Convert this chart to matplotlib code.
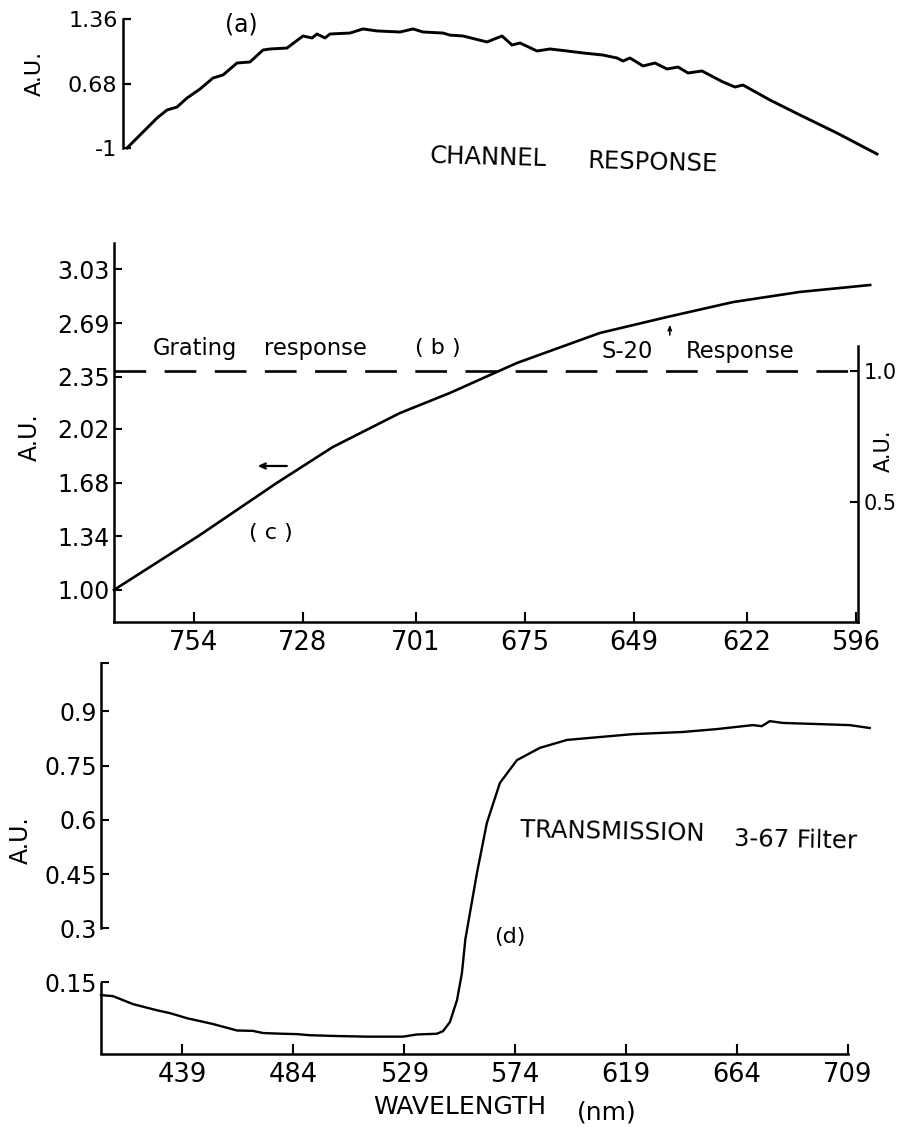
import matplotlib
matplotlib.use("Agg")
import matplotlib.pyplot as plt

plt.rcParams['font.family'] = ['DejaVu Sans']

W, H = 899, 1134

# ---------------- data ----------------
# (a) channel response (channel index, A.U.)
chan_a = [4, 17, 34, 44, 54, 64, 77, 90, 100, 114, 127, 140, 147, 164, 180, 189,
          194, 202, 207, 227, 240, 254, 277, 290, 300, 320, 327, 340, 364, 379,
          389, 397, 414, 427, 444, 460, 480, 494, 500, 507, 520, 532, 544, 555,
          565, 579, 600, 612, 620, 647, 677, 714, 754]
resp_a = [0.000, 0.137, 0.316, 0.401, 0.432, 0.527, 0.622, 0.738, 0.770, 0.896,
          0.907, 1.033, 1.044, 1.054, 1.181, 1.160, 1.202, 1.160, 1.202, 1.212,
          1.255, 1.234, 1.223, 1.255, 1.223, 1.212, 1.190, 1.181, 1.118, 1.181,
          1.086, 1.107, 1.023, 1.044, 1.023, 1.002, 0.980, 0.949, 0.917, 0.949,
          0.865, 0.896, 0.833, 0.854, 0.791, 0.812, 0.696, 0.643, 0.664, 0.506,
          0.348, 0.158, -0.063]
yticks_a = [0.0, 0.68, 1.36]
ylabels_a = ['-1', '0.68', '1.36']

# (b)/(c) grating response (right axis) and curve (c) (left axis)
wl_c = [773.0, 752.6, 734.2, 720.8, 704.8, 692.9, 676.9, 657.1, 641.1, 625.3, 609.4, 592.6]
resp_c = [1.00, 1.346, 1.677, 1.905, 2.120, 2.247, 2.437, 2.627, 2.728, 2.823, 2.887, 2.931]
grating_level = 1.0
xticks_b = [754, 728, 701, 675, 649, 622, 596]
yticks_b = [1.00, 1.34, 1.68, 2.02, 2.35, 2.69, 3.03]
ylabels_b = ['1.00', '1.34', '1.68', '2.02', '2.35', '2.69', '3.03']
yticks_b2 = [0.5, 1.0]
ylabels_b2 = ['0.5', '1.0']

# (d) transmission of 3-67 filter
wl_d = [406.0, 410.9, 419.0, 428.7, 434.0, 440.9, 451.4, 461.2, 467.6, 471.7,
        479.8, 485.5, 490.7, 500.1, 513.9, 528.5, 534.1, 542.2, 544.7, 547.5,
        550.4, 552.4, 553.8, 558.5, 562.5, 567.8, 574.7, 584.0, 595.0, 608.3,
        621.7, 642.0, 655.8, 670.4, 674.0, 677.3, 682.6, 696.3, 709.7, 717.8]
trans_d = [0.115, 0.112, 0.090, 0.073, 0.065, 0.051, 0.035, 0.017, 0.016, 0.010,
           0.008, 0.007, 0.004, 0.002, 0.000, 0.000, 0.006, 0.008, 0.015, 0.040,
           0.101, 0.176, 0.270, 0.453, 0.591, 0.702, 0.765, 0.799, 0.821, 0.829,
           0.837, 0.843, 0.851, 0.862, 0.859, 0.873, 0.868, 0.865, 0.862, 0.854]
xticks_d = [439, 484, 529, 574, 619, 664, 709]
yticks_d = [0.15, 0.3, 0.45, 0.6, 0.75, 0.9, 1.034]
ylabels_d = ['0.15', '0.3', '0.45', '0.6', '0.75', '0.9', '']

# ---------------- figure ----------------
fig = plt.figure(figsize=(W / 100, H / 100), dpi=100)


def rect(l, r, t, b):
    return [l / W, 1 - b / H, (r - l) / W, (b - t) / H]


SP = 1.8  # spine width

# ---- panel (a) ----
axa = fig.add_axes(rect(123, 877, 19, 156))
axa.plot(chan_a, resp_a, color='k', lw=2.1, clip_on=False)
axa.set_xlim(0, 754)
axa.set_ylim(-0.084, 1.36)
for s in ['top', 'right', 'bottom']:
    axa.spines[s].set_visible(False)
axa.spines['left'].set_bounds(yticks_a[0], yticks_a[-1])
axa.spines['left'].set_linewidth(SP)
axa.set_xticks([])
axa.set_yticks(yticks_a, ylabels_a)
axa.tick_params(axis='y', direction='in', length=6, width=1.6, pad=4, labelsize=16)
axa.text(-0.117, 0.606, 'A.U.', transform=axa.transAxes, rotation=90,
         ha='center', va='center', fontsize=16)
axa.text(118, 1.297, '(a)', ha='center', va='center', fontsize=17)
axa.text(365, -0.095, 'CHANNEL', ha='center', va='center', fontsize=17.5,
         rotation=-1.5, clip_on=False)
axa.text(530, -0.158, 'RESPONSE', ha='center', va='center', fontsize=17.5,
         rotation=-1.5, clip_on=False)

# ---- panel (b)/(c) ----
axb = fig.add_axes(rect(114, 858, 243, 622))
axb.plot(wl_c, resp_c, color='k', lw=1.9, clip_on=False)
axb.set_xlim(773, 595.5)
axb.set_ylim(0.797, 3.197)
for s in ['top', 'right']:
    axb.spines[s].set_visible(False)
for s in ['left', 'bottom']:
    axb.spines[s].set_linewidth(SP)
axb.set_xticks(xticks_b, [str(v) for v in xticks_b])
axb.set_yticks(yticks_b, ylabels_b)
axb.tick_params(axis='x', direction='in', length=7, width=1.5, pad=6, labelsize=18.5)
axb.tick_params(axis='y', direction='in', length=6, width=1.5, pad=3, labelsize=17)
axb.text(-0.113, 0.488, 'A.U.', transform=axb.transAxes, rotation=90,
         ha='center', va='center', fontsize=17)

axb2 = axb.twinx()
axb2.set_ylim(0.042, 1.489)
for s in ['top', 'left', 'bottom']:
    axb2.spines[s].set_visible(False)
axb2.spines['right'].set_bounds(0.042, 1.095)
axb2.spines['right'].set_linewidth(SP)
axb2.axhline(grating_level, color='k', lw=1.9, dashes=(12, 7))
axb2.set_yticks(yticks_b2, ylabels_b2)
axb2.tick_params(axis='y', direction='in', length=6, width=1.5, pad=4, labelsize=15)
axb2.text(1.035, 0.451, 'A.U.', transform=axb2.transAxes, rotation=90,
          ha='center', va='center', fontsize=15)

axb.text(753.6, 2.532, 'Grating', ha='center', va='center', fontsize=16.3)
axb.text(725.0, 2.532, 'response', ha='center', va='center', fontsize=16.3)
axb.text(695.8, 2.532, '( b )', ha='center', va='center', fontsize=16)
axb.text(650.6, 2.513, 'S-20', ha='center', va='center', fontsize=16.3)
axb.text(623.7, 2.513, 'Response', ha='center', va='center', fontsize=16.3)
axb.text(735.6, 1.36, '( c )', ha='center', va='center', fontsize=16)
axb.annotate('', xy=(739.4, 1.785), xytext=(731.1, 1.785),
             arrowprops=dict(arrowstyle='->,head_length=0.4,head_width=0.18',
                             color='k', lw=1.6))
axb.annotate('', xy=(640.4, 2.697), xytext=(640.4, 2.596),
             arrowprops=dict(arrowstyle='->,head_length=0.3,head_width=0.12',
                             color='k', lw=1.1))

# ---- panel (d) ----
axd = fig.add_axes(rect(101, 848, 655, 1054))
xlim_d = (406, 709)
ylim_d = (-0.048, 1.056)
axd.plot(wl_d, trans_d, color='k', lw=1.7, clip_on=False)
axd.set_xlim(*xlim_d)
axd.set_ylim(*ylim_d)
for s in ['top', 'right']:
    axd.spines[s].set_visible(False)
for s in ['left', 'bottom']:
    axd.spines[s].set_linewidth(SP)
axd.spines['left'].set_bounds(yticks_d[1], yticks_d[-1])
axd.plot([xlim_d[0], xlim_d[0]], [ylim_d[0], yticks_d[0]], color='k', lw=SP,
         clip_on=False, solid_capstyle='butt')
axd.set_xticks(xticks_d, [str(v) for v in xticks_d])
axd.set_yticks(yticks_d, ylabels_d)
axd.tick_params(axis='x', direction='in', length=7, width=1.5, pad=6, labelsize=18.5)
axd.tick_params(axis='y', direction='in', length=6, width=1.5, pad=3, labelsize=17)
axd.text(-0.108, 0.536, 'A.U.', transform=axd.transAxes, rotation=90,
         ha='center', va='center', fontsize=17)
axd.text(613.2, 0.566, 'TRANSMISSION', ha='center', va='center', fontsize=17.5,
         rotation=-1.2)
axd.text(687.8, 0.544, '3-67 Filter', ha='center', va='center', fontsize=17.5,
         rotation=-1.2)
axd.text(571.9, 0.275, '(d)', ha='center', va='center', fontsize=16)
axd.text(551.6, -0.195, 'WAVELENGTH', ha='center', va='center', fontsize=18,
         clip_on=False)
axd.text(611.2, -0.209, '(nm)', ha='center', va='center', fontsize=18,
         clip_on=False)

fig.savefig('out.png', dpi=100)
